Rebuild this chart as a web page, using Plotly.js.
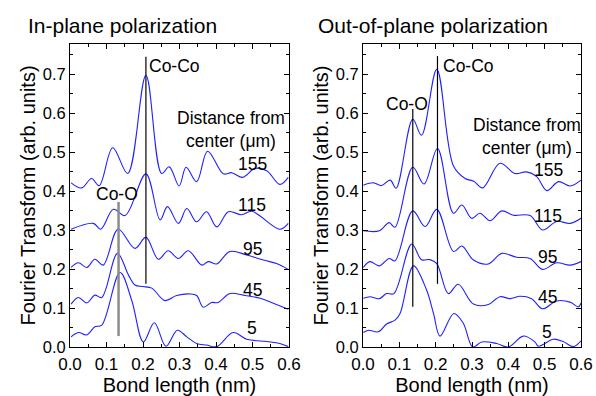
<!DOCTYPE html>
<html>
<head>
<meta charset="utf-8">
<script src="https://cdn.plot.ly/plotly-3.0.1.min.js"></script>
<style>html,body{margin:0;padding:0;background:#fff}#chart{width:596px;height:396px}</style>
</head>
<body>
<div id="chart"></div>
<script>
// ---------------- DATA ----------------
const distances = ["155", "115", "95", "45", "5"];

// In-plane polarization (left panel)
const inX155 = [0.003,0.032,0.059,0.080,0.117,0.158,0.208,0.251,0.272,0.299,0.318,0.347,0.377,0.420,0.443,0.473,0.507,0.539,0.575,0.598];
const inY155 = [0.421,0.408,0.432,0.414,0.511,0.445,0.697,0.445,0.462,0.413,0.461,0.424,0.502,0.444,0.447,0.435,0.458,0.452,0.417,0.435];

const inX115 = [0.003,0.064,0.084,0.119,0.151,0.208,0.247,0.267,0.297,0.320,0.347,0.374,0.402,0.434,0.470,0.498,0.575,0.598];
const inY115 = [0.302,0.317,0.302,0.353,0.337,0.444,0.326,0.360,0.317,0.355,0.321,0.347,0.308,0.347,0.339,0.348,0.302,0.317];

const inX95 = [0.003,0.023,0.046,0.068,0.091,0.132,0.178,0.208,0.242,0.269,0.297,0.324,0.361,0.379,0.402,0.438,0.484,0.530,0.566,0.598];
const inY95 = [0.204,0.216,0.204,0.225,0.210,0.302,0.253,0.281,0.225,0.247,0.227,0.247,0.210,0.219,0.213,0.245,0.236,0.223,0.214,0.199];

const inX45 = [0.003,0.023,0.046,0.068,0.087,0.130,0.160,0.178,0.200,0.224,0.260,0.292,0.329,0.347,0.365,0.388,0.406,0.438,0.475,0.521,0.557,0.598];
const inY45 = [0.110,0.127,0.113,0.133,0.127,0.240,0.185,0.159,0.155,0.151,0.119,0.132,0.136,0.132,0.102,0.114,0.114,0.137,0.133,0.125,0.112,0.097];

const inX5 = [0.003,0.023,0.046,0.068,0.087,0.137,0.169,0.201,0.231,0.263,0.294,0.320,0.347,0.374,0.402,0.447,0.484,0.539,0.575,0.598];
const inY5 = [0.026,0.037,0.031,0.052,0.056,0.191,0.120,0.013,0.062,0.002,0.043,0.026,0.009,0.005,0.001,0.037,0.020,0.014,0.009,0.001];

// Out-of-plane polarization (right panel)
const outX155 = [0.001,0.029,0.051,0.075,0.091,0.137,0.161,0.203,0.249,0.281,0.305,0.329,0.377,0.418,0.450,0.478,0.506,0.538,0.570,0.600];
const outY155 = [0.415,0.421,0.414,0.428,0.407,0.584,0.543,0.712,0.464,0.432,0.425,0.408,0.471,0.445,0.449,0.437,0.401,0.424,0.413,0.428];

const outX115 = [0.001,0.045,0.072,0.088,0.137,0.168,0.205,0.249,0.272,0.299,0.322,0.350,0.382,0.414,0.460,0.494,0.533,0.570,0.600];
const outY115 = [0.298,0.298,0.319,0.307,0.461,0.418,0.509,0.343,0.364,0.330,0.343,0.324,0.349,0.338,0.337,0.300,0.322,0.317,0.330];

const outX95 = [0.001,0.019,0.045,0.072,0.088,0.137,0.171,0.203,0.249,0.272,0.304,0.345,0.382,0.423,0.460,0.494,0.533,0.570,0.600];
const outY95 = [0.204,0.219,0.208,0.227,0.221,0.349,0.309,0.353,0.245,0.259,0.223,0.213,0.240,0.230,0.227,0.199,0.216,0.210,0.219];

const outX45 = [0.001,0.019,0.045,0.065,0.085,0.134,0.161,0.184,0.203,0.235,0.262,0.304,0.345,0.377,0.405,0.432,0.464,0.494,0.533,0.570,0.593,0.600];
const outY45 = [0.125,0.129,0.124,0.137,0.137,0.264,0.224,0.224,0.214,0.137,0.161,0.110,0.109,0.129,0.124,0.130,0.124,0.098,0.118,0.115,0.103,0.113];

const outX5 = [0.001,0.015,0.042,0.065,0.088,0.102,0.139,0.175,0.194,0.212,0.250,0.276,0.302,0.327,0.368,0.400,0.441,0.473,0.483,0.524,0.551,0.579,0.600];
const outY5 = [0.037,0.043,0.039,0.059,0.069,0.086,0.208,0.146,0.086,0.028,0.086,0.061,0.000,0.013,0.009,0.000,0.028,0.013,0.002,0.020,0.014,0.001,0.016];

// Marker lines for bond positions [x, yBottom, yTop]
const inCoO  = [0.133, 0.028, 0.372];
const inCoCo = [0.208, 0.162, 0.744];
const outCoO  = [0.137, 0.103, 0.610];
const outCoCo = [0.205, 0.162, 0.746];

// Label positions for distance labels
const inLabelX = [0.499, 0.499, 0.499, 0.499, 0.499];
const inLabelY = [0.469, 0.364, 0.251, 0.146, 0.049];
const outLabelX = [0.510, 0.510, 0.507, 0.507, 0.507];
const outLabelY = [0.454, 0.336, 0.231, 0.128, 0.038];

const xTickVals = [0, 0.1, 0.2, 0.3, 0.4, 0.5, 0.6];
const xTickText = ["0.0","0.1","0.2","0.3","0.4","0.5","0.6"];
const yTickVals = [0, 0.1, 0.2, 0.3, 0.4, 0.5, 0.6, 0.7];
const yTickText = ["0.0","0.1","0.2","0.3","0.4","0.5","0.6","0.7"];

// ---------------- CHART ----------------
const FONT = "Liberation Sans, Arial, sans-serif";
const BLUE = "#2020ff";

const inSeries = [[inX155,inY155],[inX115,inY115],[inX95,inY95],[inX45,inY45],[inX5,inY5]];
const outSeries = [[outX155,outY155],[outX115,outY115],[outX95,outY95],[outX45,outY45],[outX5,outY5]];

const traces = [];
inSeries.forEach((s,i)=>traces.push({x:s[0],y:s[1],xaxis:'x',yaxis:'y',mode:'lines',
  line:{color:BLUE,width:1.1,shape:'spline',smoothing:1},name:distances[i],hoverinfo:'skip'}));
outSeries.forEach((s,i)=>traces.push({x:s[0],y:s[1],xaxis:'x2',yaxis:'y2',mode:'lines',
  line:{color:BLUE,width:1.1,shape:'spline',smoothing:1},name:distances[i],hoverinfo:'skip'}));

function vline(arr, xa, ya, color, w){
  return {x:[arr[0],arr[0]], y:[arr[1],arr[2]], xaxis:xa, yaxis:ya, mode:'lines',
    line:{color:color,width:w}, hoverinfo:'skip'};
}
traces.push(vline(inCoO,'x','y','#8c8c8c',2.5));
traces.push(vline(inCoCo,'x','y','#000',1.2));
traces.push(vline(outCoO,'x2','y2','#000',1.2));
traces.push(vline(outCoCo,'x2','y2','#000',1.2));

const annFont = {family:FONT,size:17.5,color:'#000'};
const annotations = [];
distances.forEach((d,i)=>{
  annotations.push({xref:'x',yref:'y',x:inLabelX[i],y:inLabelY[i],text:d,showarrow:false,font:annFont,xanchor:'center',yanchor:'middle'});
  annotations.push({xref:'x2',yref:'y2',x:outLabelX[i],y:outLabelY[i],text:d,showarrow:false,font:annFont,xanchor:'center',yanchor:'middle'});
});
annotations.push({xref:'x',yref:'y',x:0.212,y:0.72,text:'Co-Co',showarrow:false,font:annFont,xanchor:'left',yanchor:'middle'});
annotations.push({xref:'x',yref:'y',x:0.129,y:0.392,text:'Co-O',showarrow:false,font:annFont,xanchor:'center',yanchor:'middle'});
annotations.push({xref:'x2',yref:'y2',x:0.215,y:0.72,text:'Co-Co',showarrow:false,font:annFont,xanchor:'left',yanchor:'middle'});
annotations.push({xref:'x2',yref:'y2',x:0.121,y:0.623,text:'Co-O',showarrow:false,font:annFont,xanchor:'center',yanchor:'middle'});
annotations.push({xref:'x',yref:'y',x:0.441,y:0.558,text:'Distance from<br>center (μm)',showarrow:false,font:annFont,xanchor:'center',yanchor:'middle'});
annotations.push({xref:'x2',yref:'y2',x:0.452,y:0.541,text:'Distance from<br>center (μm)',showarrow:false,font:annFont,xanchor:'center',yanchor:'middle'});
annotations.push({xref:'paper',yref:'paper',x:26/596,y:1-26/396,text:'In-plane polarization',showarrow:false,font:{family:FONT,size:21,color:'#000'},xanchor:'left',yanchor:'middle'});
annotations.push({xref:'paper',yref:'paper',x:316/596,y:1-26/396,text:'Out-of-plane polarization',showarrow:false,font:{family:FONT,size:21,color:'#000'},xanchor:'left',yanchor:'middle'});

function xaxisDef(dom){
  return {domain:dom, range:[0,0.6], tickvals:xTickVals, ticktext:xTickText, ticks:'inside', ticklen:5,
    tickcolor:'#000', showline:true, linecolor:'#000', linewidth:1, mirror:'allticks', zeroline:false, showgrid:false,
    minor:{dtick:0.05, ticks:'inside', ticklen:3, tickcolor:'#000', showgrid:false}, tick0:0,
    tickfont:{family:FONT,size:17,color:'#000'}, ticklabelstandoff:2,
    title:{text:'Bond length (nm)', font:{family:FONT,size:20,color:'#000'}, standoff:3}};
}
function yaxisDef(anchor){
  return {domain:[49/396, 352/396], range:[0,0.777], tickvals:yTickVals, ticktext:yTickText, ticks:'inside', ticklen:5,
    tickcolor:'#000', showline:true, linecolor:'#000', linewidth:1, mirror:'allticks', zeroline:false, showgrid:false,
    minor:{dtick:0.05, ticks:'inside', ticklen:3, tickcolor:'#000', showgrid:false}, tick0:0,
    tickfont:{family:FONT,size:16.5,color:'#000'}, anchor:anchor,
    title:{text:'Fourier Transform (arb. units)', font:{family:FONT,size:20,color:'#000'}, standoff:1}};
}

const xa1 = xaxisDef([70/596, 289/596]); xa1.anchor = 'y';
const xa2 = xaxisDef([363/596, 581/596]); xa2.anchor = 'y2';

const layout = {
  width:596, height:396,
  margin:{l:0,r:0,t:0,b:0},
  paper_bgcolor:'#fff', plot_bgcolor:'#fff',
  showlegend:false,
  font:{family:FONT,color:'#000'},
  xaxis:xa1, yaxis:yaxisDef('x'),
  xaxis2:xa2, yaxis2:yaxisDef('x2'),
  annotations:annotations
};

Plotly.newPlot('chart', traces, layout, {displayModeBar:false, staticPlot:true});
</script>
</body>
</html>
